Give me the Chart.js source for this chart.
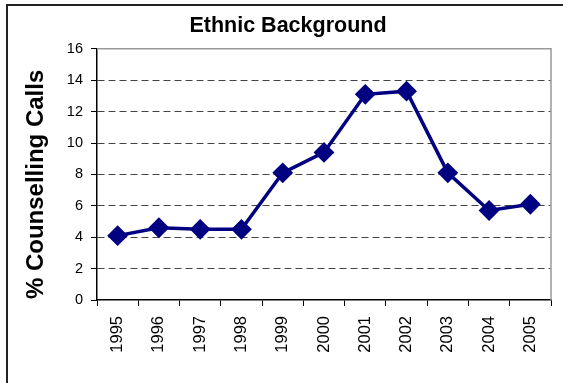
<!DOCTYPE html>
<html>
<head>
<meta charset="utf-8">
<title>Ethnic Background</title>
<script src="https://cdn.jsdelivr.net/npm/chart.js@4.4.1/dist/chart.umd.min.js"></script>
<style>
    html, body { margin: 0; padding: 0; background: #fff; overflow: hidden; }
    canvas { display: block; }
</style>
</head>
<body>
<canvas id="ethnicChart" width="563" height="383"></canvas>
<script>
// Data
const years = ['1995', '1996', '1997', '1998', '1999', '2000', '2001', '2002', '2003', '2004', '2005'];
const callPercent = [4.1, 4.6, 4.5, 4.5, 8.1, 9.4, 13.1, 13.3, 8.1, 5.7, 6.1];
const yMin = 0;
const yMax = 16;
const yStep = 2;

const navy = '#000080';
const sansFont = '"Liberation Sans", Arial, sans-serif';

// Outer frame plus the grey top/right edge of the plot area
const framePlugin = {
    id: 'frame',
    beforeDraw(chart) {
        const ctx = chart.ctx;
        ctx.save();
        ctx.strokeStyle = '#222';
        ctx.lineWidth = 2;
        ctx.beginPath();
        ctx.moveTo(7, chart.height);
        ctx.lineTo(7, 5);
        ctx.lineTo(chart.width, 5);
        ctx.stroke();
        ctx.restore();
    },
    beforeDatasetsDraw(chart) {
        const a = chart.chartArea;
        const ctx = chart.ctx;
        ctx.save();
        ctx.strokeStyle = '#999';
        ctx.lineWidth = 1.5;
        ctx.beginPath();
        ctx.moveTo(a.left, a.top);
        ctx.lineTo(a.right, a.top);
        ctx.lineTo(a.right, a.bottom);
        ctx.stroke();
        ctx.restore();
    }
};

const ctx = document.getElementById('ethnicChart').getContext('2d');
new Chart(ctx, {
    type: 'line',
    data: {
        labels: years,
        datasets: [{
            label: '% Counselling Calls',
            data: callPercent,
            borderColor: navy,
            backgroundColor: navy,
            borderWidth: 3.5,
            tension: 0,
            pointStyle: 'rectRot',
            pointRadius: 9,
            pointHoverRadius: 10,
            pointBorderWidth: 2,
            pointBackgroundColor: navy,
            pointBorderColor: navy
        }]
    },
    options: {
        responsive: false,
        animation: false,
        devicePixelRatio: 1,
        layout: {
            padding: { left: 16, right: 3, top: 0, bottom: 0 }
        },
        plugins: {
            legend: { display: false },
            title: {
                display: true,
                text: 'Ethnic Background',
                color: '#000',
                font: { family: sansFont, size: 21.5, weight: 'bold' },
                padding: { top: 13, bottom: 10 }
            }
        },
        scales: {
            x: {
                offset: true,
                grid: {
                    offset: true,
                    drawOnChartArea: false,
                    drawTicks: true,
                    tickLength: 6,
                    tickColor: '#000',
                    tickWidth: 1
                },
                border: { color: '#000', width: 1.5 },
                ticks: {
                    autoSkip: false,
                    minRotation: 90,
                    maxRotation: 90,
                    color: '#000',
                    padding: 10,
                    font: { family: sansFont, size: 16.5 }
                },
                afterFit: scale => { scale.height = 83; }
            },
            y: {
                min: yMin,
                max: yMax,
                ticks: {
                    stepSize: yStep,
                    color: '#000',
                    padding: 8,
                    font: { family: sansFont, size: 14.5 }
                },
                grid: {
                    color: c => (c.tick && (c.tick.value === yMin || c.tick.value === yMax)) ? 'rgba(0,0,0,0)' : '#444',
                    lineWidth: 1,
                    tickLength: 6,
                    tickColor: '#000',
                    tickWidth: 1
                },
                border: { color: '#000', width: 1.5, dash: [7, 4] },
                title: {
                    display: true,
                    // trailing spaces push the label down like the original
                    text: '% Counselling Calls   ',
                    color: '#000',
                    font: { family: sansFont, size: 24, weight: 'bold' },
                    padding: { top: 6, bottom: 0 }
                },
                afterFit: scale => { scale.width = 81; }
            }
        }
    },
    plugins: [framePlugin]
});
</script>
</body>
</html>
